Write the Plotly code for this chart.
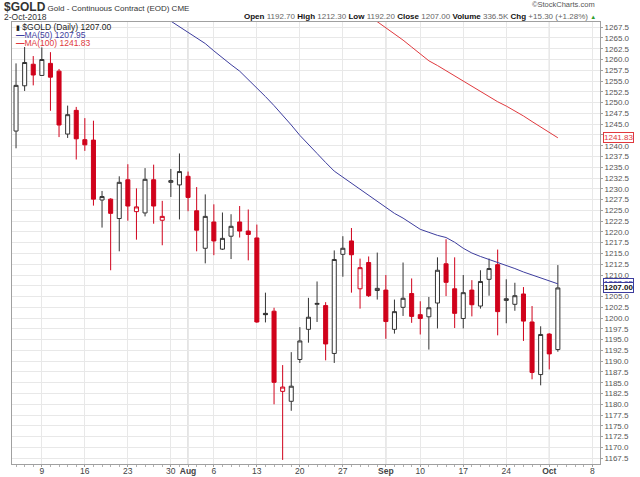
import numpy as np
import plotly.graph_objects as go

# Trading days shown (Jul 4 and Sep 3 holidays are absent)
DATES = [
    "2018-07-03", "2018-07-05", "2018-07-06",
    "2018-07-09", "2018-07-10", "2018-07-11", "2018-07-12", "2018-07-13",
    "2018-07-16", "2018-07-17", "2018-07-18", "2018-07-19", "2018-07-20",
    "2018-07-23", "2018-07-24", "2018-07-25", "2018-07-26", "2018-07-27",
    "2018-07-30", "2018-07-31", "2018-08-01", "2018-08-02", "2018-08-03",
    "2018-08-06", "2018-08-07", "2018-08-08", "2018-08-09", "2018-08-10",
    "2018-08-13", "2018-08-14", "2018-08-15", "2018-08-16", "2018-08-17",
    "2018-08-20", "2018-08-21", "2018-08-22", "2018-08-23", "2018-08-24",
    "2018-08-27", "2018-08-28", "2018-08-29", "2018-08-30", "2018-08-31",
    "2018-09-04", "2018-09-05", "2018-09-06", "2018-09-07",
    "2018-09-10", "2018-09-11", "2018-09-12", "2018-09-13", "2018-09-14",
    "2018-09-17", "2018-09-18", "2018-09-19", "2018-09-20", "2018-09-21",
    "2018-09-24", "2018-09-25", "2018-09-26", "2018-09-27", "2018-09-28",
    "2018-10-01", "2018-10-02",
]

OPEN = [
    1243.4, 1253.9, 1258.9, 1256.3, 1259.1, 1257.3, 1242.7, 1248.2, 1241.4, 1241.3,
    1227.4, 1227.6, 1223.1, 1232.1, 1224.7, 1224.4, 1232.1, 1222.7, 1231.5, 1230.9,
    1232.9, 1224.9, 1216.2, 1222.3, 1216.0, 1219.0, 1222.3, 1220.2, 1218.6, 1201.1,
    1201.6, 1183.0, 1180.7, 1190.4, 1197.4, 1203.2, 1202.9, 1191.8, 1214.8, 1217.9,
    1206.8, 1212.9, 1206.4, 1206.5, 1197.4, 1202.5, 1205.7, 1200.8, 1200.3, 1203.5,
    1212.6, 1206.8, 1199.9, 1206.5, 1202.8, 1209.0, 1212.4, 1204.1, 1203.2, 1205.6,
    1199.1, 1186.9, 1196.3, 1192.7,
]
HIGH = [
    1259.1, 1262.9, 1260.8, 1262.8, 1261.7, 1257.8, 1249.3, 1249.0, 1246.4, 1245.8,
    1229.5, 1227.8, 1232.9, 1235.7, 1230.1, 1234.8, 1235.6, 1227.2, 1234.6, 1238.2,
    1234.0, 1230.4, 1228.7, 1226.4, 1224.5, 1224.1, 1226.0, 1225.2, 1221.7, 1205.9,
    1202.4, 1189.1, 1192.1, 1197.9, 1204.7, 1208.5, 1203.7, 1215.7, 1219.0, 1220.9,
    1213.8, 1214.3, 1215.2, 1210.0, 1204.3, 1212.9, 1209.2, 1203.9, 1204.9, 1214.1,
    1218.3, 1214.1, 1210.0, 1208.8, 1211.1, 1213.8, 1215.9, 1209.0, 1208.2, 1207.2,
    1202.8, 1198.1, 1196.5, 1212.3,
]
LOW = [
    1239.4, 1252.7, 1254.0, 1256.2, 1248.1, 1242.0, 1241.8, 1236.8, 1238.8, 1226.1,
    1221.0, 1211.1, 1215.5, 1222.6, 1218.2, 1223.6, 1221.9, 1216.9, 1228.1, 1222.9,
    1224.8, 1215.5, 1212.7, 1214.6, 1215.8, 1213.7, 1218.7, 1213.4, 1198.9, 1199.0,
    1180.0, 1167.1, 1178.5, 1189.6, 1194.3, 1199.1, 1190.2, 1189.6, 1209.6, 1205.9,
    1202.2, 1204.9, 1204.3, 1195.2, 1196.4, 1200.5, 1198.9, 1196.2, 1192.7, 1197.6,
    1205.1, 1197.7, 1197.6, 1200.4, 1202.2, 1205.2, 1196.0, 1198.8, 1201.7, 1194.7,
    1185.8, 1184.4, 1188.1, 1192.2,
]
CLOSE = [
    1254.0, 1259.3, 1256.4, 1260.0, 1255.9, 1244.8, 1247.2, 1241.6, 1240.2, 1227.6,
    1228.2, 1224.3, 1231.5, 1226.0, 1225.8, 1232.2, 1226.0, 1223.6, 1231.9, 1234.0,
    1228.0, 1220.4, 1223.6, 1217.9, 1218.5, 1221.3, 1220.2, 1219.4, 1199.1, 1200.8,
    1185.1, 1184.0, 1184.2, 1194.7, 1200.2, 1203.4, 1194.0, 1213.6, 1216.2, 1214.7,
    1211.7, 1205.2, 1206.9, 1199.2, 1201.5, 1204.6, 1200.4, 1199.9, 1202.4, 1211.1,
    1208.3, 1201.1, 1205.9, 1203.1, 1208.5, 1211.5, 1201.5, 1204.5, 1205.2, 1199.3,
    1187.4, 1196.2, 1191.7, 1207.0,
]

# Moving averages (first entry sits just above the plot top)
MA50_START = 17
MA50 = [
    1270.2, 1268.9, 1267.6, 1266.4, 1265.1, 1263.7, 1262.0, 1260.3, 1258.8, 1257.3,
    1255.4, 1253.5, 1251.4, 1249.3, 1247.1, 1244.8, 1242.4, 1240.4, 1238.2, 1236.1,
    1234.1, 1232.7, 1231.3, 1230.0, 1228.5, 1227.1, 1225.6, 1224.3, 1223.2, 1221.8,
    1220.6, 1219.9, 1219.2, 1218.7, 1217.6, 1216.2, 1215.1, 1214.3, 1213.6, 1213.0,
    1212.3, 1211.5, 1210.7, 1210.0, 1209.3, 1208.6, 1207.95,
]
MA100_START = 41
MA100 = [
    1270.2, 1268.8, 1267.3, 1265.9, 1264.5, 1262.9, 1261.2, 1259.7, 1258.6, 1257.4,
    1256.1, 1254.9, 1253.8, 1252.5, 1251.4, 1250.2, 1249.2, 1248.1, 1246.9, 1245.6,
    1244.3, 1243.0, 1241.83,
]

TICK_DATES = ["2018-07-09", "2018-07-16", "2018-07-23", "2018-07-30", "2018-08-01",
              "2018-08-06", "2018-08-13", "2018-08-20", "2018-08-27", "2018-09-04",
              "2018-09-10", "2018-09-17", "2018-09-24", "2018-10-01", "2018-10-08"]
TICK_TEXT = ["9", "16", "23", "30", "Aug", "6", "13", "20", "27", "Sep",
             "10", "17", "24", "Oct", "8"]
MONTH_LABELS = ["Aug", "Sep", "Oct"]

RED = "#d0021b"
DARK = "#333333"
BLUE = "#3d3d9e"
MA_RED = "#e0393e"

W, H = 640, 477
ML, MR, MT, MB = 12, 40, 22, 13


def px_x(x):
    return (x - ML) / (W - ML - MR)


def px_y(y):
    return (H - MB - y) / (H - MT - MB)


def day_pos(d):
    if d in DATES:
        return DATES.index(d)
    return len(DATES) - 1 + int(np.busday_count(DATES[-1], d))


n = len(DATES)
x = np.arange(n)
o, h, l, c = map(np.array, (OPEN, HIGH, LOW, CLOSE))
prev = np.concatenate([[o[0]], c[:-1]])
up_day = c >= prev
hollow = c > o

# StockCharts colouring: hollow when close > open, red when close < previous close
groups = [
    (hollow & up_day, DARK, "white"),
    (hollow & ~up_day, RED, "white"),
    (~hollow & ~up_day, RED, RED),
    (~hollow & up_day, DARK, DARK),
]

fig = go.Figure()
for mask, lc, fc in groups:
    if not mask.any():
        continue
    style = dict(line=dict(color=lc, width=1), fillcolor=fc)
    fig.add_trace(go.Candlestick(
        x=x[mask], open=o[mask], high=h[mask], low=l[mask], close=c[mask],
        increasing=style, decreasing=style, whiskerwidth=0,
        showlegend=False, hoverinfo="skip",
    ))

fig.add_trace(go.Scatter(
    x=np.arange(MA50_START, MA50_START + len(MA50)), y=MA50, mode="lines",
    line=dict(color=BLUE, width=1), showlegend=False, hoverinfo="skip"))
fig.add_trace(go.Scatter(
    x=np.arange(MA100_START, MA100_START + len(MA100)), y=MA100, mode="lines",
    line=dict(color=MA_RED, width=1), showlegend=False, hoverinfo="skip"))

tickvals = [day_pos(d) for d in TICK_DATES]
ticktext = [f"<b>{t}</b>" if t in MONTH_LABELS else t for t in TICK_TEXT]

# darker month separators
for tv, tt in zip(tickvals, TICK_TEXT):
    if tt in MONTH_LABELS:
        fig.add_shape(type="line", xref="x", yref="paper", x0=tv, x1=tv, y0=0, y1=1,
                      line=dict(color="#c4c4c4", width=1), layer="below")

FONT = "Liberation Sans, Arial, sans-serif"

fig.update_xaxes(
    range=[-0.47, 67.9], tickmode="array", tickvals=tickvals, ticktext=ticktext,
    showgrid=True, gridcolor="#e8e8e8", gridwidth=1, zeroline=False,
    showline=True, mirror=True, linecolor="#a0a0a0", linewidth=1,
    ticks="outside", ticklen=2, tickcolor="#a0a0a0", automargin=False,
    ticklabelstandoff=-3,
    tickfont=dict(size=8.5, color="#444", family=FONT),
    minor=dict(ticks="outside", tickmode="linear", tick0=0, dtick=1, ticklen=2,
               tickcolor="#b0b0b0", showgrid=False),
    rangeslider=dict(visible=False),
)
fig.update_yaxes(
    range=[1166.15, 1268.7], side="right", tickmode="linear", tick0=1167.5, dtick=2.5,
    tickformat=".1f", showgrid=True, gridcolor="#e8e8e8", gridwidth=1, zeroline=False,
    showline=True, mirror=True, linecolor="#a0a0a0", linewidth=1,
    ticks="outside", ticklen=2, tickcolor="#a0a0a0", automargin=False,
    tickfont=dict(size=8, color="#555", family=FONT),
)

ann = []
ann.append(dict(
    text="<span style='font-size:12px'><b>$GOLD</b></span> Gold - Continuous Contract (EOD) CME",
    x=px_x(2), y=px_y(7), xanchor="left", yanchor="middle",
    font=dict(size=8, color="#333", family=FONT)))
ann.append(dict(text="2-Oct-2018", x=px_x(2), y=px_y(16.5), xanchor="left", yanchor="middle",
                font=dict(size=8.5, color="#333", family=FONT)))
ann.append(dict(text="©StockCharts.com", x=px_x(597), y=px_y(5), xanchor="right",
                yanchor="middle", font=dict(size=7.5, color="#555", family=FONT)))
header = ("<b>Open</b> <span style='color:#666'>1192.70</span> "
          "<b>High</b> <span style='color:#666'>1212.30</span> "
          "<b>Low</b> <span style='color:#666'>1192.20</span> "
          "<b>Close</b> <span style='color:#666'>1207.00</span> "
          "<b>Volume</b> <span style='color:#666'>336.5K</span> "
          "<b>Chg</b> <span style='color:#666'>+15.30 (+1.28%)</span> "
          "<span style='color:#2e9e2e;font-size:6px'>▲</span>")
ann.append(dict(text=header, x=px_x(598), y=px_y(16.5), xanchor="right", yanchor="middle",
                font=dict(size=8, color="#111", family=FONT)))

legend_rows = [
    ("<span style='font-size:7px'>▮</span> $GOLD (Daily) 1207.00", "#222"),
    ("<b>—</b>MA(50) 1207.95", BLUE),
    ("<b>—</b>MA(100) 1241.83", MA_RED),
]
for i, (txt, col) in enumerate(legend_rows):
    ann.append(dict(text=txt, x=px_x(14), y=px_y(27 + 7.8 * i), xanchor="left",
                    yanchor="middle", font=dict(size=8.5, color=col, family=FONT)))

# value tags on the price axis
tags = [
    (MA100[-1], f"{MA100[-1]:.2f}", MA_RED, MA_RED, False),
    (MA50[-1], f"{MA50[-1]:.2f}", BLUE, BLUE, False),
    (CLOSE[-1], f"{CLOSE[-1]:.2f}", "#111", BLUE, True),
]
for val, txt, fc, bc, bold in tags:
    ann.append(dict(
        text=f"<b>{txt}</b>" if bold else txt, xref="paper", yref="y", x=1.0, y=val,
        xanchor="left", yanchor="middle", xshift=3, bgcolor="white", bordercolor=bc,
        borderwidth=1, borderpad=0, font=dict(size=8, color=fc, family=FONT)))

for a in ann:
    a.setdefault("xref", "paper")
    a.setdefault("yref", "paper")
    a["showarrow"] = False
fig.update_layout(annotations=ann)

fig.update_layout(
    width=W, height=H,
    margin=dict(l=ML, r=MR, t=MT, b=MB, autoexpand=False),
    paper_bgcolor="white", plot_bgcolor="white",
    font=dict(family=FONT),
    boxgap=0.33,
)

fig.write_html("out.html", config={"displayModeBar": False},
               post_script="document.body.style.margin='0px';")
